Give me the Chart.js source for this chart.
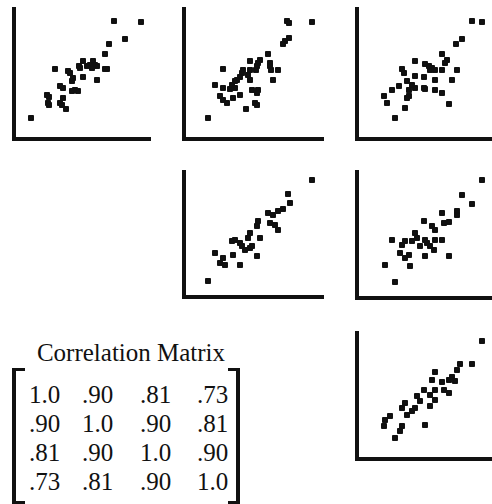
<!DOCTYPE html>
<html>
<head>
<meta charset="utf-8">
<script src="https://cdn.jsdelivr.net/npm/chart.js@4/dist/chart.umd.min.js"></script>
<style>
  html, body { margin: 0; padding: 0; background: #fff; overflow: hidden; }
  body { width: 492px; height: 504px; position: relative; }
  canvas { position: absolute; }
  .txt { position: absolute; font-family: "Liberation Serif", "Times New Roman", serif; font-size: 25px; line-height: 25px; color: #111; white-space: nowrap; }
  .br { position: absolute; background: #111; }
</style>
</head>
<body>
<script>
// Scatter data (offset from the axes corner, in panel units)
const pair12 = [[100,118],[127,117],[111,100],[95,95],[91,85],[69,78],[79,78],[76,74],[81,74],[73,73],[78,71],[83,73],[91,70],[93,70],[41,70],[54,68],[56,66],[65,73],[66,71],[59,61],[69,62],[83,59],[58,58],[46,53],[49,51],[61,49],[64,48],[58,48],[33,44],[35,42],[49,41],[34,36],[35,34],[46,36],[48,34],[52,30],[17,21]];
const pair13 = [[103,118],[105,116],[128,117],[105,101],[101,98],[99,95],[84,85],[76,79],[74,76],[73,73],[72,69],[66,78],[86,76],[86,73],[87,69],[94,69],[89,59],[39,70],[59,69],[58,66],[66,69],[64,64],[66,59],[56,62],[53,59],[51,58],[48,54],[46,50],[39,51],[31,54],[51,51],[56,44],[68,49],[74,49],[73,46],[36,43],[39,39],[43,36],[49,41],[71,36],[73,34],[62,30],[24,21]];
const pair14 = [[115,118],[125,117],[105,100],[99,95],[85,85],[90,79],[88,76],[58,78],[68,75],[72,73],[75,71],[78,69],[73,69],[85,69],[100,69],[45,70],[47,66],[58,63],[67,62],[78,59],[95,59],[50,58],[42,53],[35,49],[55,54],[58,51],[52,49],[67,51],[68,50],[78,49],[85,46],[27,43],[30,36],[52,43],[50,41],[48,31],[92,35],[38,21]];
const pair23 = [[128,117],[104,103],[106,94],[99,88],[94,86],[84,84],[89,82],[86,74],[91,72],[94,67],[74,76],[73,71],[66,64],[64,59],[76,59],[51,57],[48,56],[56,54],[58,51],[61,47],[66,49],[68,51],[73,41],[31,44],[39,39],[36,34],[41,32],[49,42],[56,32],[24,16]];
const pair24 = [[125,118],[105,103],[115,94],[85,85],[100,87],[100,83],[92,76],[87,75],[67,77],[75,72],[78,68],[58,65],[60,60],[68,58],[70,55],[78,58],[85,58],[35,58],[48,57],[45,53],[55,57],[73,52],[77,48],[43,45],[52,43],[48,40],[68,42],[92,42],[28,33],[53,32],[38,16],[63,52]];
const pair34 = [[125,118],[103,95],[115,95],[100,89],[78,87],[75,79],[95,82],[92,79],[98,78],[85,77],[78,69],[87,69],[92,66],[67,69],[60,63],[63,58],[73,64],[78,59],[73,53],[48,56],[45,51],[58,51],[55,48],[50,44],[68,34],[33,43],[28,39],[27,33],[45,33],[43,28],[38,21]];

// Correlation matrix
const matrixTitle = "Correlation Matrix";
const matrixRows = [
  ["1.0", ".90", ".81", ".73"],
  [".90", "1.0", ".90", ".81"],
  [".81", ".90", "1.0", ".90"],
  [".73", ".81", ".90", "1.0"]
];

// layout of the panels (axis corner positions)
const PAD = 6;
const panels = [
  { data: pair12, ax: 14,  top: 9,   w: 136, h: 130 },
  { data: pair13, ax: 184, top: 9,   w: 139, h: 130 },
  { data: pair14, ax: 357, top: 9,   w: 135, h: 130 },
  { data: pair23, ax: 184, top: 172, w: 139, h: 125 },
  { data: pair24, ax: 357, top: 172, w: 135, h: 126 },
  { data: pair34, ax: 357, top: 333, w: 135, h: 126 }
];

panels.forEach(p => {
  const cv = document.createElement('canvas');
  const cw = p.w + PAD * 2, ch = p.h + PAD * 2;
  cv.width = cw; cv.height = ch;
  cv.style.left = (p.ax - PAD) + 'px';
  cv.style.top = (p.top - PAD) + 'px';
  cv.style.width = cw + 'px'; cv.style.height = ch + 'px';
  document.body.appendChild(cv);
  const axisCommon = {
    type: 'linear',
    ticks: { display: false },
    grid: { display: false, drawTicks: false },
    border: { display: true, color: '#111', width: 4 }
  };
  new Chart(cv, {
    type: 'scatter',
    data: { datasets: [{
      data: p.data.map(d => ({ x: d[0], y: d[1] })),
      pointStyle: 'rect',
      pointRadius: 3.5,
      borderWidth: 1,
      backgroundColor: '#111',
      borderColor: '#111',
      clip: false
    }]},
    options: {
      responsive: false,
      animation: false,
      devicePixelRatio: 1,
      layout: { padding: PAD },
      plugins: { legend: { display: false }, tooltip: { enabled: false } },
      scales: {
        x: Object.assign({}, axisCommon, { position: 'bottom', min: 0, max: p.w }),
        y: Object.assign({}, axisCommon, { position: 'left', min: 0, max: p.h })
      }
    }
  });
});

// matrix text (baseline = top + 21 for 25px Liberation Serif with 25px line-height)
function addText(str, left, baseline, center) {
  const d = document.createElement('div');
  d.className = 'txt';
  d.textContent = str;
  d.style.top = (baseline - 21) + 'px';
  if (center) { d.style.left = (left - 200) + 'px'; d.style.width = '400px'; d.style.textAlign = 'center'; }
  else d.style.left = left + 'px';
  document.body.appendChild(d);
}
addText(matrixTitle, 131, 361, true);
const colX = [29, 82, 140, 197];
const rowBase = [403, 432, 461, 490];
matrixRows.forEach((row, r) => row.forEach((v, c) => addText(v, colX[c], rowBase[r], false)));

function rect(l, t, w, h) {
  const d = document.createElement('div');
  d.className = 'br';
  d.style.left = l + 'px'; d.style.top = t + 'px';
  d.style.width = w + 'px'; d.style.height = h + 'px';
  document.body.appendChild(d);
}
// left bracket
rect(12, 368, 4, 137);
rect(12, 368, 13, 3);
rect(12, 501, 13, 3);
// right bracket
rect(236, 368, 4, 137);
rect(228, 368, 12, 3);
rect(228, 501, 12, 3);
</script>
</body>
</html>
